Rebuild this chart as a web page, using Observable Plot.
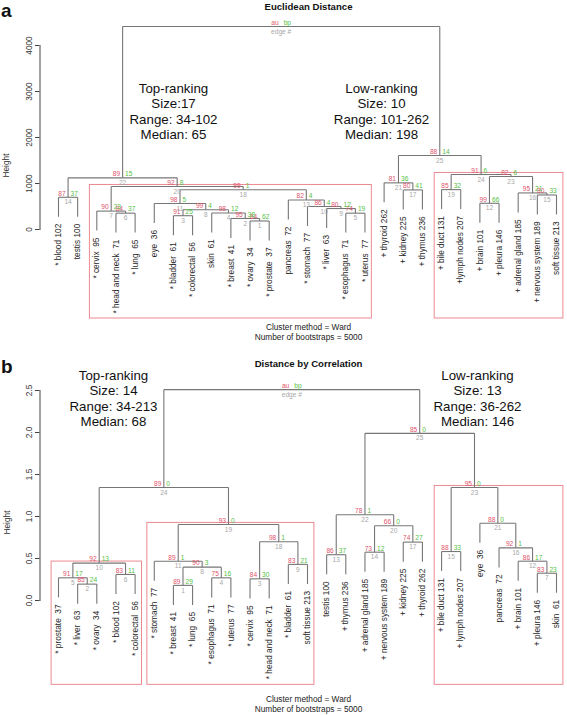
<!DOCTYPE html>
<html><head><meta charset="utf-8">
<script src="https://cdn.jsdelivr.net/npm/d3@7"></script>
<script src="https://cdn.jsdelivr.net/npm/@observablehq/plot@0.6"></script>
<style>
body{margin:0;background:#fff;}
#chart{width:567px;height:715px;background:#fff;}
#chart svg{display:block;}
</style></head><body><div id="chart"></div>
<script>
// ---------- Panel a : Euclidean distance ----------
const leavesA = ["* blood 102","testis 100","* cervix  95","* head and neck  71","* lung  65","eye  36","* bladder  61","* colorectal  56","skin  61","* breast  41","* ovary  34","* prostate  37","pancreas  72","* stomach  77","* liver  63","* esophagus  71","* uterus  77","+ thyroid 262","+ kidney 225","+ thymus 236","+ bile duct 131","+lymph nodes 207","+ brain 101","+ pleura 146","+ adrenal gland 185","+ nervous system 189","soft tissue 213"];
// merge rows (negative = leaf position, positive = earlier merge row)
const mergeA = [[-11,-12],[-10,1],[-7,-8],[-9,2],[-16,-17],[-4,-5],[-3,6],[3,4],[-15,5],[-14,9],[-6,8],[-23,-24],[-13,10],[-1,-2],[-26,-27],[-25,15],[-19,-20],[11,13],[-21,-22],[7,18],[-18,17],[14,20],[12,16],[19,23],[21,24],[22,25]];
const heightA = [185,240,300,360,355,355,400,428,456,500,565,570,640,700,750,795,860,865,867,935,1014,1123,1152,1196,1609,4413];
const auA = [84,95,91,98,74,84,90,99,80,86,98,99,82,87,80,95,80,99,85,92,81,89,82,91,88];
const bpA = [62,38,25,12,19,37,23,4,12,4,5,66,4,37,33,21,41,1,32,8,36,15,6,6,14];
const boxesA = [{from:3,to:17,edge:20},{from:21,to:27,edge:24}];
const yTicksA = [0,1000,2000,3000,4000];
const notesA = ["Top-ranking\nSize:17\nRange: 34-102\nMedian: 65","Low-ranking\nSize: 10\nRange: 101-262\nMedian: 198"];
const titleA = "Euclidean Distance";

// ---------- Panel b : distance by correlation ----------
const leavesB = ["* prostate  37","* liver  63","* ovary  34","* blood 102","* colorectal  56","* stomach  77","* breast  41","* lung  65","* esophagus  71","* uterus  77","* cervix  95","* head and neck  71","* bladder  61","soft tissue 213","testis 100","+ thymus 236","+ adrenal gland 185","+ nervous system 189","+ kidney 225","+ thyroid 262","+ bile duct 131","+ lymph nodes 207","eye  36","pancreas  72","+ brain 101","+ pleura 146","skin  61"];
const mergeB = [[-7,-8],[-2,-3],[-11,-12],[-9,-10],[-1,2],[-4,-5],[-26,-27],[1,4],[-13,-14],[5,6],[-6,8],[-25,7],[-15,-16],[-17,-18],[-21,-22],[-24,12],[-19,-20],[3,9],[11,18],[14,17],[-23,16],[13,20],[15,21],[10,19],[22,23],[24,25]];
const heightB = [0.18,0.195,0.258,0.27,0.27,0.31,0.325,0.397,0.43,0.445,0.468,0.468,0.545,0.575,0.583,0.627,0.695,0.70,0.905,0.89,0.92,1.02,1.345,1.345,1.99,2.51];
const auB = [89,85,84,75,91,83,83,90,83,92,89,86,86,73,88,92,74,98,93,66,88,78,95,89,85];
const bpB = [29,24,30,16,17,11,23,3,21,13,1,17,37,12,33,1,27,1,0,0,0,1,0,0,0];
const boxesB = [{from:1,to:5,edge:10},{from:6,to:14,edge:19},{from:21,to:27,edge:23}];
const yTicksB = [0,0.5,1,1.5,2,2.5];
const notesB = ["Top-ranking\nSize: 14\nRange: 34-213\nMedian: 68","Low-ranking\nSize: 13\nRange: 36-262\nMedian: 146"];
const titleB = "Distance by Correlation";

const captionLines = ["Cluster method = Ward","Number of bootstraps = 5000"];

const FONT = "'Liberation Sans', Arial, Helvetica, sans-serif";
const COL = {au:"#DF536B", bp:"#52C244", edge:"#A8A8A8", line:"#767676", box:"#EC8A92", text:"#262626"};

function dendro(merge, height) {
  const hang = 0.1 * (d3.max(height) - d3.min(height));
  const nx = [], segs = [], leafY = [];
  merge.forEach(([a, b], k) => {
    const h = height[k];
    const pts = [a, b].map(c => c < 0 ? {x: -c, y: h - hang, leaf: -c} : {x: nx[c - 1], y: height[c - 1]});
    nx[k] = (pts[0].x + pts[1].x) / 2;
    for (const p of pts) {
      segs.push({x1: p.x, y1: p.y, x2: p.x, y2: h});
      if (p.leaf) leafY[p.leaf - 1] = p.y;
    }
    segs.push({x1: pts[0].x, y1: h, x2: pts[1].x, y2: h});
  });
  return {nx, segs, leafY};
}

function panel(cfg) {
  const {leaves, merge, height, au, bp, boxes, ticks, fmt, notes, title, letter, H, mTop, mBottom, boxBottom, my, pos} = cfg;
  const mLeft = 39.5;
  const {nx, segs, leafY} = dendro(merge, height);
  const leafData = leaves.map((label, i) => ({x: i + 1, y: leafY[i], label}));
  const nodes = nx.slice(0, -1).map((x, k) => ({x, y: height[k], au: String(au[k]), bp: String(bp[k]), edge: String(k + 1)}));
  const root = [{x: nx[nx.length - 1], y: height[height.length - 1]}];
  // annotation helper: page-local pixel placement relative to frame top-left
  const ann = (txt, px, py, o = {}) => Plot.text([txt], {text: d => d, frameAnchor: "top-left", dx: px - mLeft, dy: py - mTop, fill: "#111", ...o});
  return Plot.plot({
    width: 567, height: H,
    marginLeft: mLeft, marginRight: 11, marginTop: mTop, marginBottom: mBottom,
    x: {domain: [1, 27], range: [58, 556], axis: null},
    y: {domain: [0, ticks[ticks.length - 1]], axis: null},
    style: {fontFamily: FONT, background: "white", overflow: "visible"},
    marks: [
      Plot.frame({anchor: "left", stroke: "#444", strokeWidth: 1}),
      Plot.axisY(ticks, {anchor: "left", tickSize: 4.5, tickPadding: 3.5, tickRotate: -90, fontSize: 8.3, tickFormat: fmt, label: null, stroke: "#444", fill: "#333"}),
      Plot.rect(boxes, {x1: d => d.from - 0.36, x2: d => d.to + 0.36, y1: () => boxBottom, y2: d => height[d.edge - 1] + my, fill: "none", stroke: COL.box, strokeWidth: 1}),
      Plot.link(segs, {x1: "x1", y1: "y1", x2: "x2", y2: "y2", stroke: COL.line, strokeWidth: 1.1}),
      Plot.text(leafData, {x: "x", y: "y", text: "label", rotate: -90, textAnchor: "end", lineAnchor: "middle", dy: 7, fontSize: 8.3, fill: COL.text}),
      Plot.text(nodes, {x: "x", y: "y", text: "au", textAnchor: "end", lineAnchor: "middle", dx: -2.5, dy: -3.8, fontSize: 6.6, fill: COL.au}),
      Plot.text(nodes, {x: "x", y: "y", text: "bp", textAnchor: "start", lineAnchor: "middle", dx: 2.5, dy: -3.8, fontSize: 6.6, fill: COL.bp}),
      Plot.text(nodes, {x: "x", y: "y", text: "edge", textAnchor: "middle", lineAnchor: "middle", dy: 5, fontSize: 6.6, fill: COL.edge}),
      Plot.text(root, {x: "x", y: "y", text: () => "au", textAnchor: "end", lineAnchor: "middle", dx: -2.5, dy: -3.8, fontSize: 6.6, fill: COL.au}),
      Plot.text(root, {x: "x", y: "y", text: () => "bp", textAnchor: "start", lineAnchor: "middle", dx: 2.5, dy: -3.8, fontSize: 6.6, fill: COL.bp}),
      Plot.text(root, {x: "x", y: "y", text: () => "edge #", textAnchor: "middle", lineAnchor: "middle", dy: 5, fontSize: 6.6, fill: COL.edge}),
      ann(letter, 0.5, pos.letter, {textAnchor: "start", lineAnchor: "middle", fontSize: 19, fontWeight: "bold"}),
      ann(title, 308, pos.title, {textAnchor: "middle", lineAnchor: "middle", fontSize: 9.6, fontWeight: "bold"}),
      ann("Height", pos.hx, pos.hy, {rotate: -90, textAnchor: "middle", lineAnchor: "middle", fontSize: 8.3, fill: "#333"}),
      ann(notes[0], pos.n1x, pos.ny, {textAnchor: "middle", lineAnchor: "middle", fontSize: 13.3, lineHeight: 1.17}),
      ann(notes[1], pos.n2x, pos.ny, {textAnchor: "middle", lineAnchor: "middle", fontSize: 13.3, lineHeight: 1.17}),
      ann(captionLines[0], 308, pos.c1, {textAnchor: "middle", lineAnchor: "middle", fontSize: 8.3, fill: "#222"}),
      ann(captionLines[1], 308, pos.c2, {textAnchor: "middle", lineAnchor: "middle", fontSize: 8.3, fill: "#222"})
    ]
  });
}

const chart = document.getElementById("chart");
chart.append(panel({
  leaves: leavesA, merge: mergeA, height: heightA, au: auA, bp: bpA, boxes: boxesA,
  ticks: yTicksA, fmt: d => String(d), notes: notesA, title: titleA, letter: "a",
  H: 350, mTop: 45, mBottom: 121, boxBottom: -1935, my: 33,
  pos: {letter: 10, title: 6, hx: 6, hy: 165, n1x: 173, n2x: 381, ny: 110.5, c1: 327, c2: 337}
}));
chart.append(panel({
  leaves: leavesB, merge: mergeB, height: heightB, au: auB, bp: bpB, boxes: boxesB,
  ticks: yTicksB, fmt: d => d.toFixed(1), notes: notesB, title: titleB, letter: "b",
  H: 365, mTop: 40, mBottom: 115, boxBottom: -1.004, my: 0.0185,
  pos: {letter: 16, title: 13, hx: 7, hy: 172, n1x: 113, n2x: 477, ny: 47.5, c1: 349, c2: 359}
}));
</script>
</body></html>
